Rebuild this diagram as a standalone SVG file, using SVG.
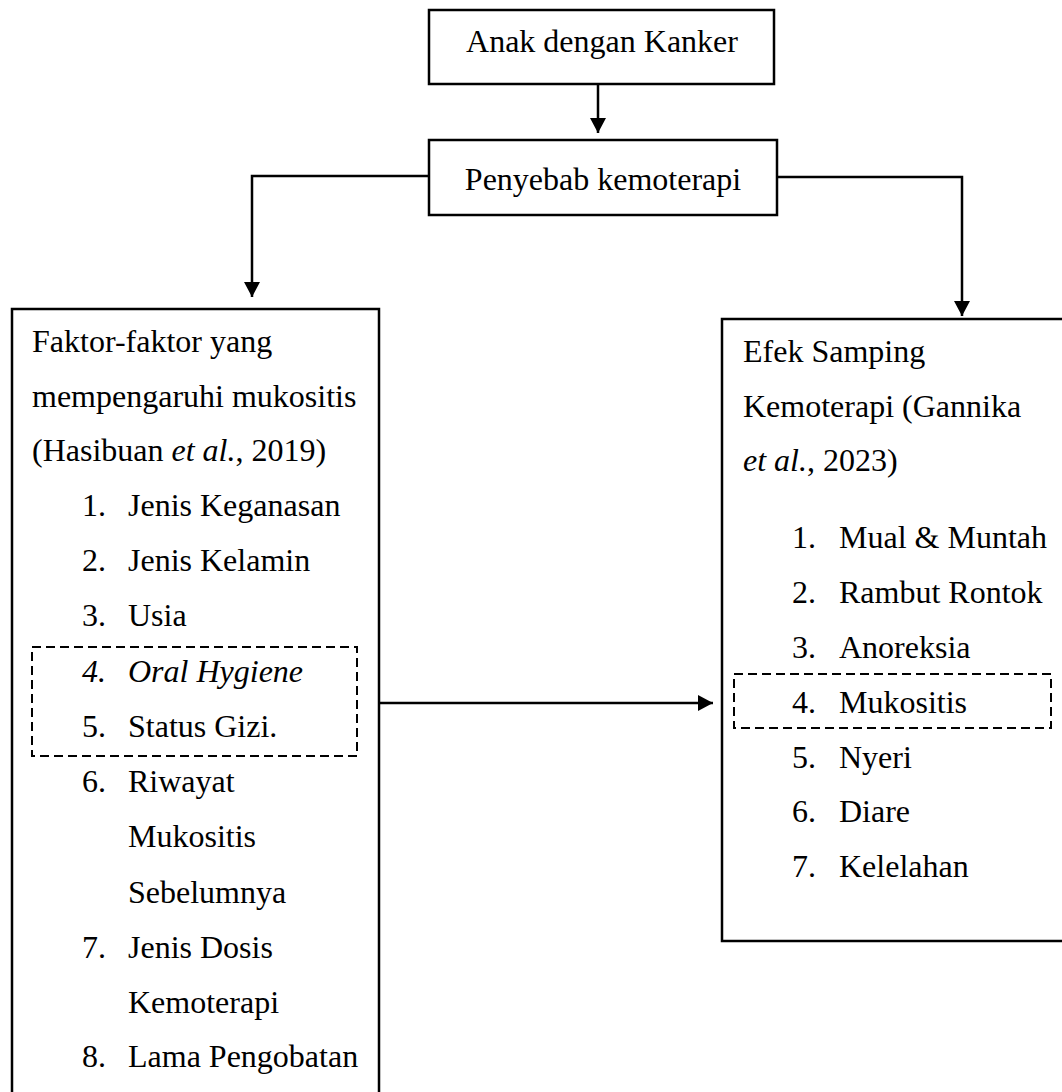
<svg xmlns="http://www.w3.org/2000/svg" width="1062" height="1092" viewBox="0 0 1062 1092">
<style>
text{font-family:"Liberation Serif","Times New Roman",serif;font-size:32px;fill:#000}
.box{fill:#fff;stroke:#000;stroke-width:2.5}
.dash{fill:none;stroke:#000;stroke-width:2;stroke-dasharray:9 5}
.conn{fill:none;stroke:#000;stroke-width:2.5}
.i{font-style:italic}
</style>
<defs>
<marker id="ah" markerUnits="userSpaceOnUse" markerWidth="16" markerHeight="16" refX="15" refY="8" orient="auto">
<path d="M0,0 L15,8 L0,16 Z" fill="#000"/>
</marker>
</defs>
<rect width="1062" height="1092" fill="#fff"/>
<g id="connectors">
<line class="conn" x1="598" y1="84" x2="598" y2="133" marker-end="url(#ah)"/>
<polyline class="conn" points="429,176 252,176 252,297" marker-end="url(#ah)"/>
<polyline class="conn" points="777,177 962,177 962,316" marker-end="url(#ah)"/>
<line class="conn" x1="379" y1="703" x2="713" y2="703" marker-end="url(#ah)"/>
</g>
<g id="node-anak">
<rect class="box" x="429" y="10" width="345" height="74"/>
<text x="602" y="52" text-anchor="middle">Anak dengan Kanker</text>
</g>
<g id="node-penyebab">
<rect class="box" x="429" y="140" width="348" height="75"/>
<text x="603" y="190" text-anchor="middle">Penyebab kemoterapi</text>
</g>
<g id="node-faktor">
<rect class="box" x="12" y="309" width="367" height="820"/>
<text x="32" y="352">Faktor-faktor yang</text>
<text x="32" y="407">mempengaruhi mukositis</text>
<text x="32" y="461">(Hasibuan <tspan class="i">et al.</tspan>, 2019)</text>
<text x="82" y="516">1.</text><text x="128" y="516">Jenis Keganasan</text>
<text x="82" y="571">2.</text><text x="128" y="571">Jenis Kelamin</text>
<text x="82" y="626">3.</text><text x="128" y="626">Usia</text>
<rect class="dash" x="32" y="647" width="325" height="109"/>
<text x="82" y="682" class="i">4.</text><text x="128" y="682" class="i">Oral Hygiene</text>
<text x="82" y="737">5.</text><text x="128" y="737">Status Gizi.</text>
<text x="82" y="792">6.</text><text x="128" y="792">Riwayat</text>
<text x="128" y="847">Mukositis</text>
<text x="128" y="903">Sebelumnya</text>
<text x="82" y="958">7.</text><text x="128" y="958">Jenis Dosis</text>
<text x="128" y="1013">Kemoterapi</text>
<text x="82" y="1067">8.</text><text x="128" y="1067">Lama Pengobatan</text>
</g>
<g id="node-efek">
<rect class="box" x="722" y="319" width="400" height="622"/>
<text x="743" y="362">Efek Samping</text>
<text x="743" y="417">Kemoterapi (Gannika</text>
<text x="743" y="471"><tspan class="i">et al.</tspan>, 2023)</text>
<text x="792" y="548">1.</text><text x="839" y="548">Mual &amp; Muntah</text>
<text x="792" y="603">2.</text><text x="839" y="603">Rambut Rontok</text>
<text x="792" y="658">3.</text><text x="839" y="658">Anoreksia</text>
<rect class="dash" x="734" y="674" width="317" height="54"/>
<text x="792" y="713">4.</text><text x="839" y="713">Mukositis</text>
<text x="792" y="768">5.</text><text x="839" y="768">Nyeri</text>
<text x="792" y="822">6.</text><text x="839" y="822">Diare</text>
<text x="792" y="877">7.</text><text x="839" y="877">Kelelahan</text>
</g>
</svg>
